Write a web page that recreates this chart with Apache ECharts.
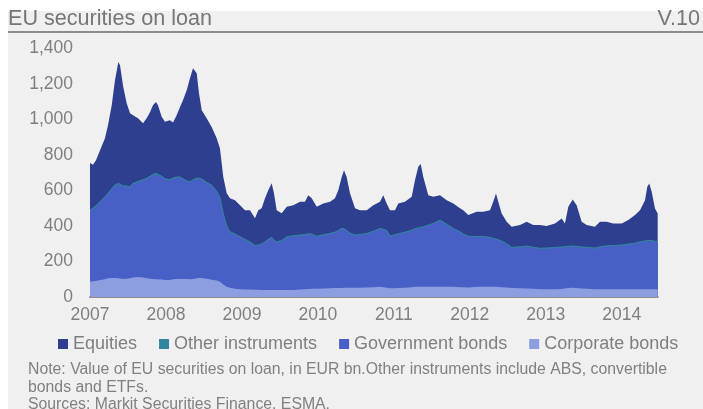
<!DOCTYPE html>
<html><head><meta charset="utf-8">
<script src="https://cdn.jsdelivr.net/npm/echarts@6/dist/echarts.min.js"></script>
<style>html,body{margin:0;padding:0;background:#fff}#c{width:703px;height:409px}</style>
</head><body><div id="c"></div>
<script>
// Time in decimal years
const years = [2007.000,2007.039,2007.079,2007.132,2007.197,2007.237,2007.286,2007.329,2007.373,2007.395,
2007.438,2007.483,2007.527,2007.566,2007.632,2007.698,2007.746,2007.790,2007.829,2007.869,
2007.895,2007.944,2007.987,2008.053,2008.093,2008.141,2008.185,2008.224,2008.273,2008.316,
2008.356,2008.382,2008.405,2008.435,2008.471,2008.536,2008.602,2008.668,2008.711,2008.755,
2008.800,2008.843,2008.909,2008.975,2009.041,2009.106,2009.172,2009.216,2009.260,2009.304,
2009.347,2009.392,2009.422,2009.458,2009.524,2009.590,2009.676,2009.765,2009.830,2009.874,
2009.919,2009.985,2010.071,2010.160,2010.225,2010.269,2010.314,2010.344,2010.379,2010.423,
2010.489,2010.555,2010.643,2010.730,2010.818,2010.861,2010.906,2010.949,2011.015,2011.059,
2011.147,2011.235,2011.279,2011.322,2011.354,2011.388,2011.454,2011.520,2011.608,2011.696,
2011.783,2011.871,2011.914,2011.980,2012.091,2012.178,2012.266,2012.309,2012.345,2012.375,
2012.420,2012.486,2012.552,2012.661,2012.749,2012.836,2012.924,2013.012,2013.122,2013.210,
2013.253,2013.297,2013.355,2013.407,2013.473,2013.539,2013.648,2013.714,2013.802,2013.889,
2014.000,2014.087,2014.175,2014.241,2014.307,2014.337,2014.363,2014.395,2014.438,2014.474];

const corporateBonds = [86,88,90,95,100,105,107,107,106,101,
101,103,105,110,112,110,106,103,101,100,
100,98,95,96,100,101,101,101,101,100,
102,104,105,107,107,103,97,93,86,70,
58,52,47,43,42,42,41,41,40,40,
40,40,40,40,40,39,40,42,44,45,
46,47,48,49,50,51,51,52,52,52,
52,52,53,55,58,55,52,49,49,50,
52,55,57,58,58,58,58,58,58,58,
57,55,55,54,57,58,58,58,57,56,
55,53,50,49,48,46,44,43,43,45,
48,50,52,50,48,46,44,43,43,43,
43,43,43,43,43,43,43,43,43,43];

const governmentBonds = [399,408,421,437,461,475,499,519,530,525,
520,518,511,526,534,546,559,573,585,593,
586,578,566,560,566,571,571,560,550,544,
554,557,560,558,554,538,529,498,470,397,
339,312,305,293,280,266,246,248,257,268,
282,293,277,268,275,297,302,304,305,308,
306,292,299,306,312,321,332,329,320,305,
294,297,302,312,325,324,320,291,298,303,
310,318,324,329,332,334,344,353,372,349,
326,309,297,285,280,280,275,269,266,263,
257,244,226,231,236,231,227,230,233,234,
233,233,232,232,231,231,229,237,242,244,
247,252,257,265,270,272,274,272,268,265];

const otherInstruments = [4,4,4,4,4,4,4,4,4,4,
4,4,4,4,4,4,4,4,4,4,
4,4,4,4,4,4,4,4,4,4,
4,4,4,4,4,4,4,4,4,3,
3,3,3,3,3,3,3,3,3,3,
3,3,3,3,3,3,3,3,3,3,
3,3,3,3,3,3,3,3,3,3,
3,3,3,3,3,3,3,3,3,3,
3,3,3,3,3,3,3,3,3,3,
3,3,3,3,3,3,3,3,3,3,
3,3,3,3,3,3,3,3,3,3,
3,3,3,3,3,3,3,3,3,3,
3,3,3,3,3,3,3,3,3,3];

const equities = [266,245,255,290,328,383,469,590,683,674,
557,465,414,383,356,318,337,360,389,401,
389,334,321,335,313,347,394,442,509,583,
627,633,590,478,386,361,327,298,276,206,
184,189,190,178,164,178,154,197,200,245,
276,305,264,178,154,169,172,187,184,217,
201,166,177,178,191,226,290,330,301,224,
151,137,131,147,150,191,152,146,139,171,
171,188,274,343,355,281,168,150,140,135,
141,133,134,119,140,139,153,206,257,214,
155,123,116,122,136,125,131,123,135,160,
130,222,262,232,141,125,119,140,135,124,
121,135,158,178,229,302,319,274,184,159];

const yTicks = [0, 200, 400, 600, 800, 1000, 1200, 1400];
const xYears = [2007, 2008, 2009, 2010, 2011, 2012, 2013, 2014];

const legendNames = ['Equities', 'Other instruments', 'Government bonds', 'Corporate bonds'];
const colors = {
  'Equities': '#2d3f8e',
  'Other instruments': '#31869b',
  'Government bonds': '#4860c6',
  'Corporate bonds': '#8d9ee0'
};
const txt = '#7f7f7f';
const font = 'Liberation Sans, Arial, sans-serif';

// stack order bottom -> top
const stackOrder = [
  ['Corporate bonds', corporateBonds],
  ['Government bonds', governmentBonds],
  ['Other instruments', otherInstruments],
  ['Equities', equities]
];
// cumulative tops, built from the component arrays
const cum = [];
let run = years.map(() => 0);
stackOrder.forEach(([name, arr]) => {
  run = run.map((v, i) => v + arr[i]);
  cum.push([name, run.slice()]);
});

function area(name, tops, lineW) {
  return {
    name, type: 'line', data: years.map((y, i) => [y, tops[i]]),
    showSymbol: false, symbol: 'none', smooth: false,
    itemStyle: { color: colors[name] },
    lineStyle: lineW ? { width: lineW, color: colors[name] } : { width: 0, opacity: 0 },
    areaStyle: { color: colors[name], opacity: 1, origin: 'start' },
    emphasis: { disabled: true }, animation: false
  };
}
// draw top-most cumulative first so lower layers paint over it
const series = cum.slice().reverse().map(([name, tops]) => area(name, tops, name === 'Other instruments' ? 1 : 0));

const chart = echarts.init(document.getElementById('c'), null, { renderer: 'canvas' });
chart.setOption({
  backgroundColor: '#ffffff',
  animation: false,
  textStyle: { fontFamily: font },
  graphic: [
    { type: 'rect', silent: true, z: -10, shape: { x: 8, y: 11, width: 695, height: 398 }, style: { fill: '#f0f0f0' } },
    { type: 'text', left: 8, top: 8, style: { text: 'EU securities on loan', font: '21.6px ' + font, fill: '#767676' } },
    { type: 'text', right: 3, top: 8, style: { text: 'V.10', font: '21.6px ' + font, fill: '#767676' } },
    { type: 'line', shape: { x1: 8, y1: 32, x2: 703, y2: 32 }, style: { stroke: '#8c8c8c', lineWidth: 2 } },
    { type: 'text', left: 28, top: 361, style: { text: 'Note: Value of EU securities on loan, in EUR bn.Other instruments include ABS, convertible\nbonds and ETFs.\nSources: Markit Securities Finance, ESMA.', font: '15.8px ' + font, fill: '#808080', lineHeight: 17.5 } }
  ],
  legend: {
    data: legendNames, left: 58, top: 335, padding: 0, icon: 'rect', itemWidth: 10, itemHeight: 10, itemGap: 22,
    textStyle: { fontSize: 18, color: txt, fontFamily: font }
  },
  grid: { left: 90, right: 45.3, top: 48.3, bottom: 112, containLabel: false },
  xAxis: {
    type: 'value', min: xYears[0], max: years[years.length - 1], interval: 1,
    axisLine: { show: true, lineStyle: { color: '#8c8c8c', width: 2 } },
    axisTick: { show: false }, splitLine: { show: false },
    axisLabel: {
      fontSize: 17.5, color: txt, margin: 9, showMaxLabel: false,
      formatter: v => { const r = Math.round(v); return (Math.abs(v - r) < 1e-6 && xYears.indexOf(r) >= 0) ? String(r) : ''; }
    }
  },
  yAxis: {
    type: 'value', min: yTicks[0], max: yTicks[yTicks.length - 1], interval: 200,
    axisLine: { show: false }, axisTick: { show: false }, splitLine: { show: false },
    axisLabel: { fontSize: 17.5, color: txt, margin: 17, formatter: v => v.toLocaleString('en-US') }
  },
  series
});
</script></body></html>
